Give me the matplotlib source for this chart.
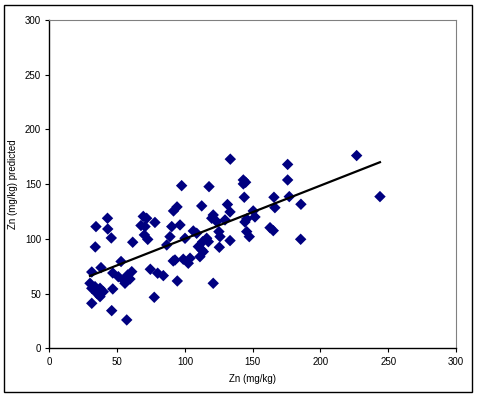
import matplotlib
matplotlib.use('Agg')
import numpy as np
import matplotlib.pyplot as plt
from matplotlib.patches import Rectangle

# 数据
zn_measured = [42.9, 34.4, 43.1, 45.7, 33.9, 61.5, 69.3, 71.8, 77.9, 67.6,
               70.6, 70.1, 72.6, 52.9, 38.1, 31.3, 46.8, 50.9, 54.6, 55.8,
               60.8, 57.8, 59.5, 74.5, 79.9, 84.1, 91.4, 30.0, 33.7, 37.4,
               39.8, 37.4, 31.3, 35.0, 46.8, 31.3, 77.4, 46.0, 57.1, 91.6,
               94.2, 90.3, 96.4, 89.0, 86.6, 94.4, 92.7, 97.6, 117.8, 143.1,
               144.8, 143.1, 143.8, 112.4, 131.4, 133.3, 120.9, 119.8, 123.5, 129.6,
               150.4, 151.7, 145.6, 144.3, 106.2, 108.7, 100.1, 113.1, 116.1, 117.3,
               125.1, 125.9, 145.6, 147.5, 133.3, 125.4, 112.4, 113.6, 98.8, 103.8,
               111.1, 102.5, 120.9, 109.9, 133.5, 226.7, 175.8, 175.8, 165.7, 177.0,
               166.4, 185.6, 243.9, 162.8, 165.2, 185.4]
zn_predicted = [118.8, 111.2, 109.0, 100.8, 92.6, 96.9, 120.5, 118.8, 115.0, 112.2,
                111.2, 103.6, 99.5, 79.3, 73.7, 69.7, 68.8, 65.4, 62.4, 59.4,
                70.0, 67.0, 63.3, 72.2, 68.6, 66.4, 79.8, 59.4, 56.3, 54.8,
                51.7, 47.2, 54.8, 50.3, 54.2, 41.1, 46.6, 34.4, 25.9, 125.5,
                129.2, 111.2, 112.7, 102.0, 94.4, 61.5, 80.7, 148.6, 147.7, 153.8,
                151.7, 150.2, 138.0, 130.1, 131.4, 124.6, 121.8, 118.8, 115.7, 117.3,
                125.5, 120.0, 118.2, 115.4, 107.2, 105.1, 100.5, 97.4, 100.5, 97.4,
                106.6, 102.0, 106.6, 102.0, 98.4, 92.3, 89.9, 88.3, 81.4, 82.3,
                83.7, 77.7, 59.4, 92.9, 172.8, 176.1, 168.0, 153.8, 138.0, 138.6,
                128.5, 131.6, 138.6, 110.2, 107.5, 99.6]

# 趋势线系数
trend_slope = 0.486
trend_intercept = 51.5

plt.rcParams['font.family'] = ['Liberation Sans', 'DejaVu Sans']

fig = plt.figure(figsize=(4.79, 3.97), dpi=100)
ax = fig.add_axes([0.103, 0.1227, 0.849, 0.827])

ax.scatter(zn_measured, zn_predicted, marker='D', s=34, color='#000080',
           edgecolors='none', zorder=3)

x_line = np.array([min(zn_measured), max(zn_measured)])
ax.plot(x_line, trend_slope * x_line + trend_intercept, color='black', lw=1.6, zorder=4)

ax.set_xlim(0, 300)
ax.set_ylim(0, 300)
ax.set_xticks(range(0, 301, 50))
ax.set_yticks(range(0, 301, 50))
ax.tick_params(direction='out', length=3, width=0.8, labelsize=7, pad=3)
ax.set_xlabel('Zn (mg/kg)', fontsize=7, labelpad=5)
ax.set_ylabel('Zn (mg/kg) predicted', fontsize=7, labelpad=5)

ax.spines['top'].set_color('#808080')
ax.spines['right'].set_color('#808080')
for s in ['left', 'bottom']:
    ax.spines[s].set_color('black')
    ax.spines[s].set_linewidth(1.0)

# 外框
fig.patches.append(Rectangle((0.008, 0.0126), 0.977, 0.975, transform=fig.transFigure,
                             fill=False, edgecolor='black', lw=1.0))

plt.savefig('out.png')
